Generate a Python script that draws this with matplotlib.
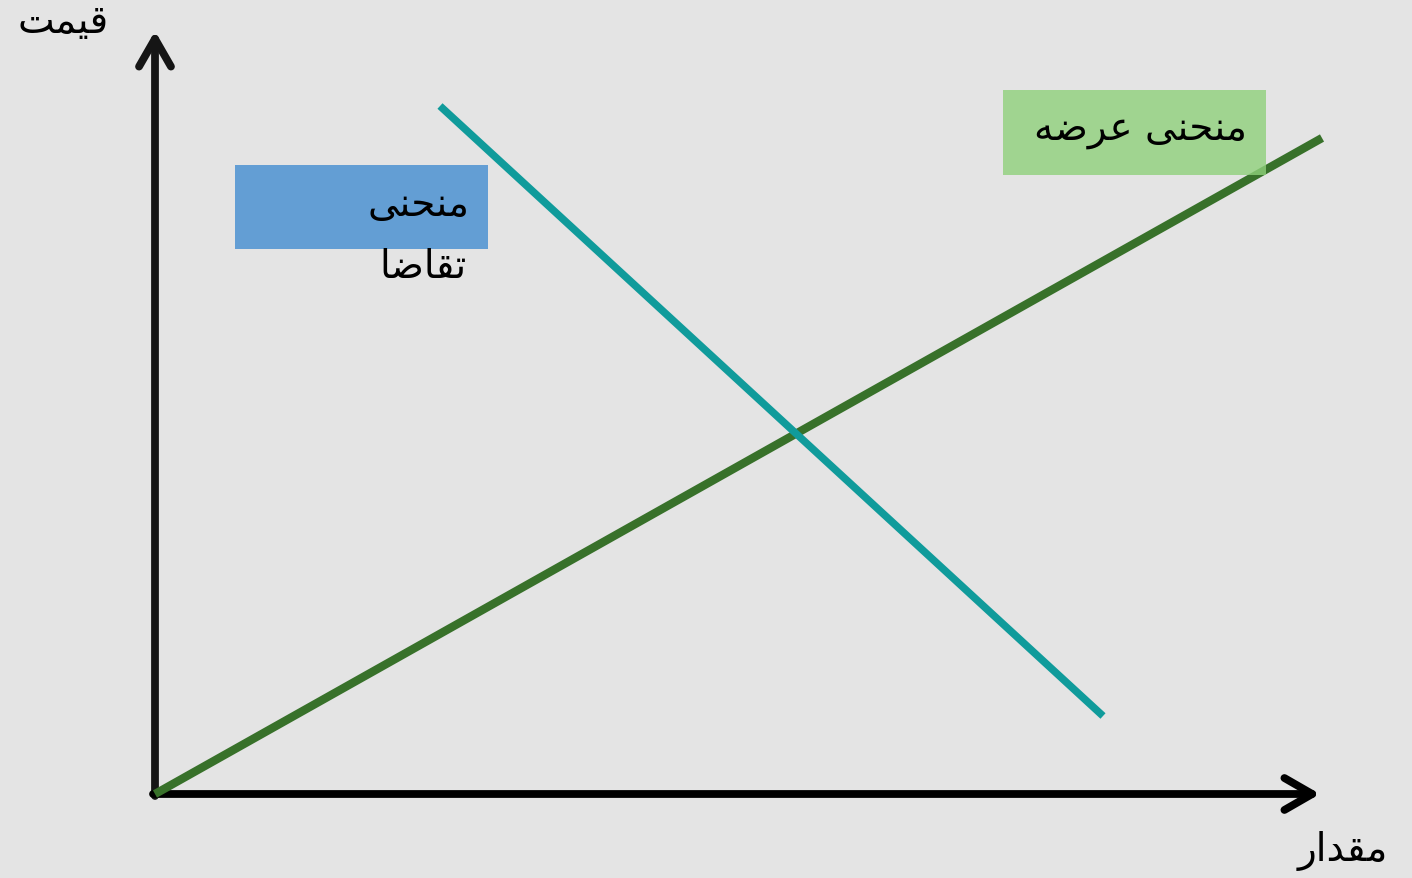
import matplotlib.pyplot as plt
from matplotlib.patches import Rectangle

# Persian labels, written in shaped presentation forms (visual order)
price_label = "\uFE96\uFEE4\uFEF4\uFED7"            # قیمت
quantity_label = "\uFEAD\uFE8D\uFEAA\uFED8\uFEE3"   # مقدار
demand_label_1 = "\uFEF0\uFEE8\uFEA4\uFEE8\uFEE3"   # منحنی
demand_label_2 = "\uFE8E\uFEBF\uFE8E\uFED8\uFE97"   # تقاضا
supply_label = "\uFEEA\uFEBF\uFEAE\uFECB \uFEF0\uFEE8\uFEA4\uFEE8\uFEE3"  # منحنی عرضه

# curves (quantity, price)
supply_q = [0, 1167]
supply_p = [0, 656]
demand_q = [285, 948]
demand_p = [688, 78]

# axis extents
q_max = 1165
p_max = 763

BG = "#e4e4e4"

fig = plt.figure(figsize=(14.12, 8.79), dpi=100, facecolor=BG)
ax = fig.add_axes([0, 0, 1, 1])
ax.set_facecolor(BG)
ax.set_xlim(-155, 1257)
ax.set_ylim(-84, 795)
ax.axis("off")

# axes with arrow heads
arrow_kw = dict(arrowstyle="->,head_length=2.0,head_width=1.15", mutation_scale=10,
                lw=5.6, shrinkA=0, shrinkB=0, capstyle="round", joinstyle="round")
ax.annotate("", xy=(0, p_max), xytext=(0, -2),
            arrowprops=dict(color="#151515", **arrow_kw))
ax.annotate("", xy=(q_max, 0), xytext=(-2, 0),
            arrowprops=dict(color="#000000", **arrow_kw))

# supply and demand lines
ax.plot(supply_q, supply_p, color="#38712a", lw=6.0, solid_capstyle="butt", zorder=3)
ax.plot(demand_q, demand_p, color="#109b9b", lw=5.4, solid_capstyle="butt", zorder=3)

# label boxes
ax.add_patch(Rectangle((80, 545), 253, 84, facecolor="#639ed4", edgecolor="none", zorder=4))
ax.add_patch(Rectangle((848, 619), 263, 85, facecolor="#8fd17b", edgecolor="none",
                       alpha=0.8, zorder=4))

font = ["DejaVu Sans"]
ax.text(315, 590, demand_label_1, fontsize=28, ha="right", va="center",
        family=font, zorder=5)
ax.text(312, 528, demand_label_2, fontsize=28, ha="right", va="center",
        family=font, zorder=5)
ax.text(985, 665, supply_label, fontsize=28, ha="center", va="center",
        family=font, zorder=5)
ax.text(-92, 773, price_label, fontsize=28, ha="center", va="center",
        family=font, zorder=5)
ax.text(1188, -56, quantity_label, fontsize=28, ha="center", va="center",
        family=font, zorder=5)

fig.savefig("out.png", dpi=100, facecolor=BG)
